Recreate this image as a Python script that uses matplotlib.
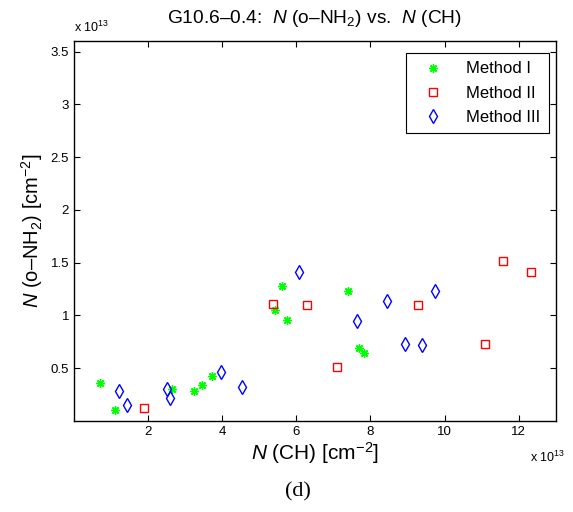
#!/usr/bin/env python3

import matplotlib
matplotlib.use("Agg")
import matplotlib.pyplot as plt

plt.rcParams['font.family'] = ['Liberation Sans', 'DejaVu Sans']
plt.rcParams['mathtext.fontset'] = 'custom'
plt.rcParams['mathtext.rm'] = 'Liberation Sans'
plt.rcParams['mathtext.it'] = 'Liberation Sans:italic'
plt.rcParams['mathtext.default'] = 'regular'

# column densities, in units of 1e13 cm^-2
ch_m1 = [0.70, 1.10, 2.65, 3.25, 3.45, 3.72, 5.61, 5.43, 5.76, 7.40, 7.68, 7.82]
nh2_m1 = [0.356, 0.104, 0.30, 0.286, 0.34, 0.425, 1.277, 1.054, 0.956, 1.229, 0.686, 0.641]

ch_m2 = [1.89, 5.38, 6.29, 7.10, 9.28, 11.08, 11.57, 12.33]
nh2_m2 = [0.126, 1.104, 1.094, 0.512, 1.094, 0.729, 1.516, 1.406]

ch_m3 = [1.21, 1.43, 2.51, 2.60, 3.96, 4.54, 6.07, 8.44, 7.64, 9.73, 8.94, 9.38]
nh2_m3 = [0.286, 0.151, 0.299, 0.214, 0.465, 0.318, 1.412, 1.135, 0.95, 1.226, 0.733, 0.723]

xticks = [2, 4, 6, 8, 10, 12]
yticks = [0.5, 1, 1.5, 2, 2.5, 3, 3.5]

fig = plt.figure(figsize=(5.73, 5.12), dpi=100)
ax = fig.add_axes([0.129, 0.178, 0.841, 0.742])

ax.plot(ch_m1, nh2_m1, linestyle='none', marker=(8, 2, 0), color=(0, 1, 0),
        markersize=6, markeredgewidth=1.0, label='Method I')
ax.plot(ch_m2, nh2_m2, linestyle='none', marker='s', color='red',
        markerfacecolor='none', markersize=5.5, markeredgewidth=1.0, label='Method II')
ax.plot(ch_m3, nh2_m3, linestyle='none', marker='d', color='blue',
        markerfacecolor='none', markersize=7, markeredgewidth=1.0, label='Method III')

ax.set_xlim(0, 13)
ax.set_ylim(0, 3.6)
ax.set_xticks(xticks)
ax.set_yticks(yticks)
ax.set_xticklabels([str(t) for t in xticks])
ax.set_yticklabels(['%g' % t for t in yticks])
ax.tick_params(direction='in', top=True, right=True, labelsize=9.5, length=4)
for s in ax.spines.values():
    s.set_linewidth(1.0)

ax.set_title('G10.6–0.4:  $\\it{N}$ (o–NH$_2$) vs.  $\\it{N}$ (CH)', fontsize=13.8, pad=13)
ax.set_xlabel('$\\it{N}$ (CH) [cm$^{-2}$]', fontsize=15, labelpad=2)
ax.set_ylabel('$\\it{N}$ (o–NH$_2$) [cm$^{-2}$]', fontsize=14.5, labelpad=4)

ax.text(0.0, 1.015, 'x 10$^{13}$', transform=ax.transAxes, fontsize=9,
        ha='left', va='bottom')
ax.text(1.02, -0.075, 'x 10$^{13}$', transform=ax.transAxes, fontsize=9,
        ha='right', va='top')

leg = ax.legend(loc='upper right', bbox_to_anchor=(0.985, 0.968), fontsize=12,
                fancybox=False, edgecolor='black', framealpha=1,
                borderpad=0.5, labelspacing=0.55, handlelength=2.2,
                handletextpad=0.9, borderaxespad=0)
leg.get_frame().set_linewidth(0.8)

fig.text(0.52, 0.04, '(d)', fontsize=16, ha='center', va='center',
         family=['Liberation Serif', 'DejaVu Serif'])

fig.savefig('out.png', dpi=100)
